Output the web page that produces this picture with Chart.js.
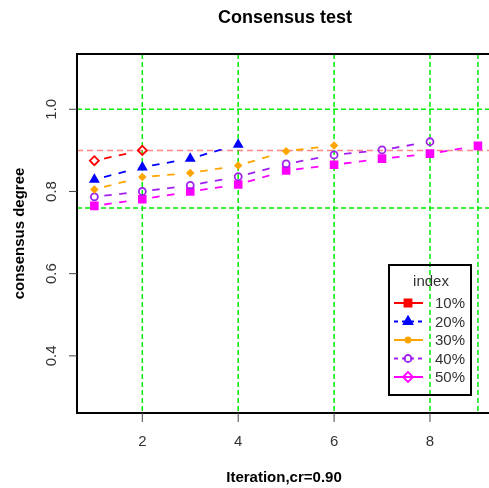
<!DOCTYPE html>
<html>
<head>
<meta charset="utf-8">
<script src="https://cdn.jsdelivr.net/npm/chart.js@4.4.0/dist/chart.umd.min.js"></script>
<style>
  body { margin: 0; background: #fff; }
  canvas { display: block; }
</style>
</head>
<body>
<canvas id="myChart" width="489" height="488"></canvas>
<script>
// iterations and consensus degree per index level
const iterations = [1, 2, 3, 4, 5, 6, 7, 8, 9];
const series10 = [0.875, 0.900];
const series20 = [0.829, 0.859, 0.880, 0.914];
const series30 = [0.805, 0.835, 0.845, 0.863, 0.898, 0.912];
const series40 = [0.787, 0.800, 0.815, 0.836, 0.867, 0.889, 0.901, 0.921];
const series50 = [0.765, 0.781, 0.800, 0.817, 0.851, 0.865, 0.880, 0.892, 0.911];
const seriesNames = ['10%', '20%', '30%', '40%', '50%'];

const xTicks = [2, 4, 6, 8];
const yTicks = [0.4, 0.6, 0.8, 1.0];
const gridX = [2, 4, 6, 8, 9];
const gridY = [0.76, 1.0];
const crLine = 0.9;

const colors = ['#FF0000', '#0000FF', '#FFA500', '#A020F0', '#FF00FF'];

function pts(vals) {
    return vals.map((v, i) => ({ x: iterations[i], y: v }));
}

const FONT = '"Liberation Sans", Arial, sans-serif';

let frame = {
    id: 'frame',
    beforeDatasetsDraw(chart) {
        const { ctx, chartArea: a, scales: { x, y } } = chart;
        ctx.save();
        ctx.lineWidth = 1.5;
        ctx.strokeStyle = '#00EE00';
        ctx.setLineDash([5, 3]);
        gridX.forEach(v => {
            let px = x.getPixelForValue(v);
            ctx.beginPath(); ctx.moveTo(px, a.top); ctx.lineTo(px, a.bottom); ctx.stroke();
        });
        gridY.forEach(v => {
            let py = y.getPixelForValue(v);
            ctx.beginPath(); ctx.moveTo(a.left, py); ctx.lineTo(a.right, py); ctx.stroke();
        });
        // cr threshold
        ctx.strokeStyle = 'rgba(255,70,70,0.65)';
        ctx.setLineDash([6, 4]);
        let py = y.getPixelForValue(crLine);
        ctx.beginPath(); ctx.moveTo(a.left, py); ctx.lineTo(a.right, py); ctx.stroke();

        // R style type="b": dashed pieces that stop short of each point
        const gap = 10;
        chart.data.datasets.forEach((ds, i) => {
            let p = chart.getDatasetMeta(i).data;
            ctx.strokeStyle = colors[i];
            ctx.lineWidth = 1.8;
            ctx.setLineDash([7.5, 7.5]);
            for (let k = 1; k < p.length; k++) {
                let dx = p[k].x - p[k - 1].x, dy = p[k].y - p[k - 1].y;
                let len = Math.hypot(dx, dy);
                if (len <= 2 * gap) continue;
                let ux = dx / len, uy = dy / len;
                ctx.beginPath();
                ctx.moveTo(p[k - 1].x + ux * gap, p[k - 1].y + uy * gap);
                ctx.lineTo(p[k].x - ux * gap, p[k].y - uy * gap);
                ctx.stroke();
            }
        });
        ctx.restore();
    },
    afterDraw(chart) {
        const { ctx, chartArea: a, scales: { x, y } } = chart;
        ctx.save();
        ctx.setLineDash([]);

        // box (right side runs off the picture)
        ctx.strokeStyle = '#000';
        ctx.lineWidth = 2;
        ctx.beginPath();
        ctx.moveTo(a.right + 5, a.top);
        ctx.lineTo(a.left, a.top);
        ctx.lineTo(a.left, a.bottom);
        ctx.lineTo(a.right + 5, a.bottom);
        ctx.stroke();

        // axis ticks + labels
        ctx.lineWidth = 1;
        ctx.strokeStyle = '#444';
        ctx.fillStyle = '#333';
        ctx.font = '15px ' + FONT;
        ctx.textAlign = 'center';
        ctx.textBaseline = 'middle';
        xTicks.forEach(v => {
            let px = x.getPixelForValue(v);
            ctx.beginPath(); ctx.moveTo(px, a.bottom); ctx.lineTo(px, a.bottom + 9); ctx.stroke();
            ctx.fillText(String(v), px, a.bottom + 29);
        });
        yTicks.forEach(v => {
            let py = y.getPixelForValue(v);
            ctx.beginPath(); ctx.moveTo(a.left, py); ctx.lineTo(a.left - 8, py); ctx.stroke();
            ctx.save();
            ctx.translate(a.left - 25, py);
            ctx.rotate(-Math.PI / 2);
            ctx.fillText(v.toFixed(1), 0, 0);
            ctx.restore();
        });

        // titles
        ctx.fillStyle = '#000';
        ctx.font = 'bold 18px ' + FONT;
        ctx.fillText('Consensus test', 285, 18);
        ctx.font = 'bold 15px ' + FONT;
        ctx.fillText('Iteration,cr=0.90', 284, 478);
        ctx.save();
        ctx.translate(20, (a.top + a.bottom) / 2);
        ctx.rotate(-Math.PI / 2);
        ctx.fillText('consensus degree', 0, 0);
        ctx.restore();

        // legend
        let lx = 389, ly = 265, lw = 82, lh = 130;
        ctx.lineWidth = 2;
        ctx.strokeStyle = '#000';
        ctx.strokeRect(lx, ly, lw, lh);
        ctx.font = '15px ' + FONT;
        ctx.fillStyle = '#333';
        ctx.fillText('index', lx + 42, ly + 17);
        const legendMarks = [
            { pointStyle: 'rect', radius: 5, fill: true, dash: [] },
            { pointStyle: 'triangle', radius: 5, fill: true, dash: [4, 4] },
            { pointStyle: 'circle', radius: 2.5, fill: true, dash: [] },
            { pointStyle: 'circle', radius: 3.5, fill: false, dash: [4, 4] },
            { pointStyle: 'rectRot', radius: 5, fill: false, dash: [] }
        ];
        seriesNames.forEach((name, i) => {
            let ry = ly + 38 + i * 18.5;
            let m = legendMarks[i];
            ctx.strokeStyle = colors[i];
            ctx.lineWidth = 2;
            ctx.setLineDash(m.dash);
            ctx.beginPath(); ctx.moveTo(lx + 5, ry); ctx.lineTo(lx + 34, ry); ctx.stroke();
            ctx.setLineDash([]);
            ctx.fillStyle = m.fill ? colors[i] : 'rgba(0,0,0,0)';
            ctx.lineWidth = 1.8;
            Chart.helpers.drawPoint(ctx, { pointStyle: m.pointStyle, radius: m.radius, rotation: 0, borderWidth: 1.8 }, lx + 19, ry);
            ctx.fillStyle = '#333';
            ctx.textAlign = 'left';
            ctx.fillText(name, lx + 46, ry + 1);
            ctx.textAlign = 'center';
        });
        ctx.restore();
    }
};

let styles = [
    { pointStyle: 'rectRot', radius: 4.5, bg: 'rgba(0,0,0,0)' },
    { pointStyle: 'triangle', radius: 4.5, bg: colors[1] },
    { pointStyle: 'rectRot', radius: 3, bg: colors[2] },
    { pointStyle: 'circle', radius: 3.5, bg: 'rgba(0,0,0,0)' },
    { pointStyle: 'rect', radius: 4.8, bg: colors[4] }
];

let allSeries = [series10, series20, series30, series40, series50];

let ctx = document.getElementById('myChart').getContext('2d');
let chart = new Chart(ctx, {
    type: 'line',
    data: {
        datasets: allSeries.map((s, i) => ({
            label: seriesNames[i],
            data: pts(s),
            showLine: false,
            borderColor: colors[i],
            pointStyle: styles[i].pointStyle,
            pointRadius: styles[i].radius,
            pointBackgroundColor: styles[i].bg,
            pointBorderColor: colors[i],
            pointBorderWidth: 1.8,
            fill: false
        }))
    },
    options: {
        responsive: false,
        animation: false,
        layout: { autoPadding: false, padding: { left: 77, top: 54, right: 0, bottom: 75 } },
        plugins: { legend: { display: false }, tooltip: { enabled: false }, title: { display: false } },
        scales: {
            x: { type: 'linear', display: false, min: 0.638, max: 9.231 },
            y: { type: 'linear', display: false, min: 0.261, max: 1.1345 }
        }
    },
    plugins: [frame]
});
</script>
</body>
</html>
